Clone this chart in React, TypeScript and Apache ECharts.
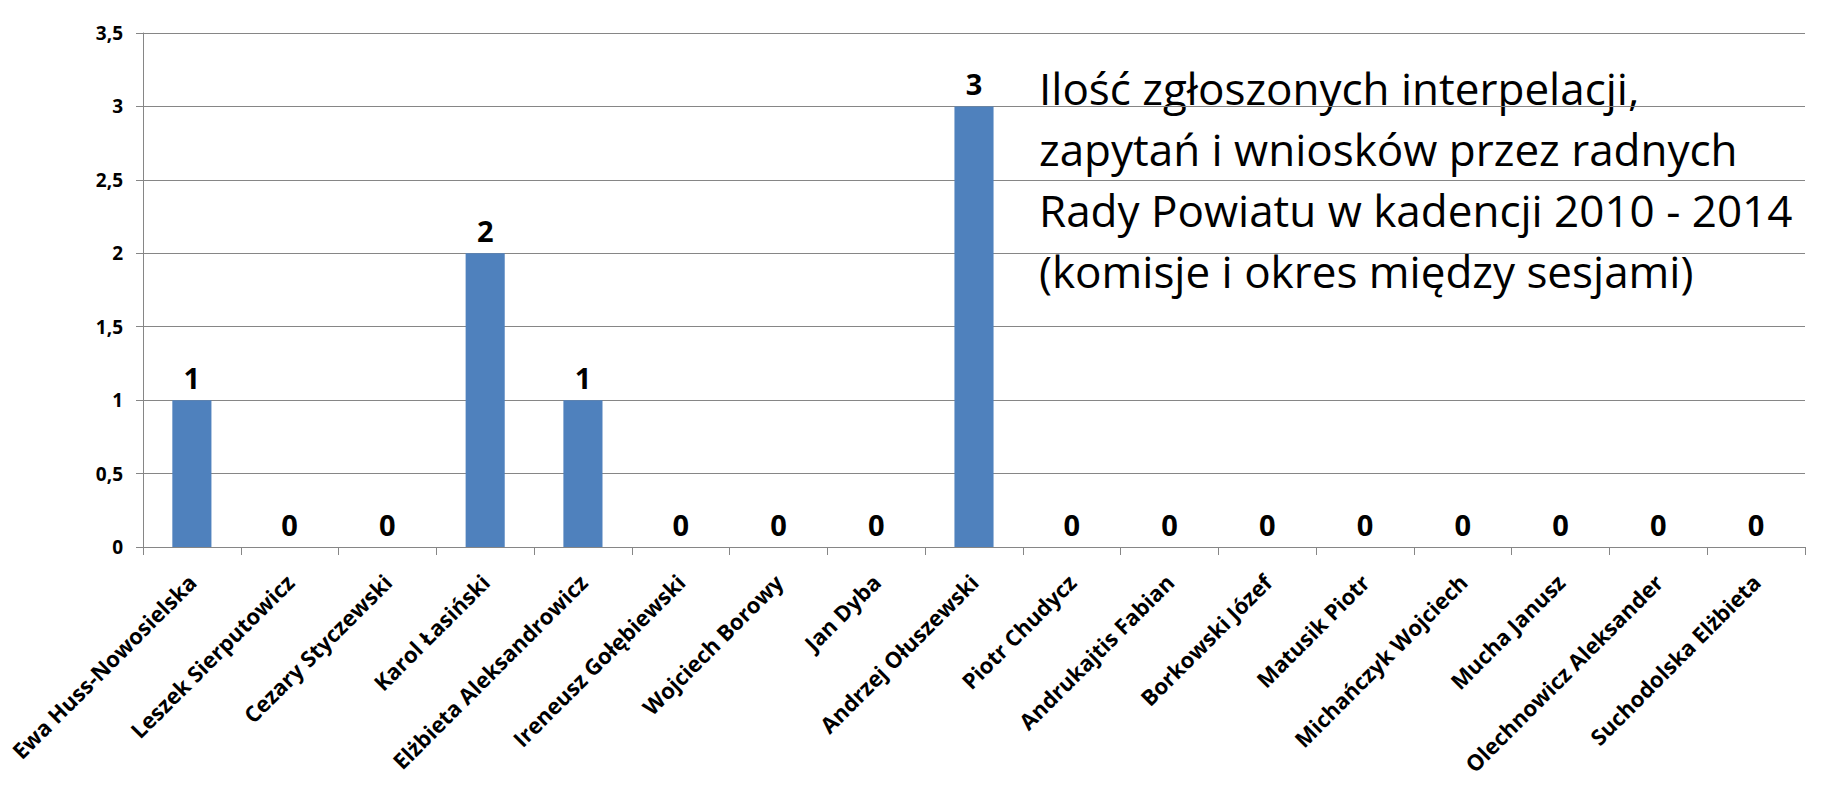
import { useEffect, useRef } from 'react';
import * as echarts from 'echarts';

// radni i liczba zgłoszonych interpelacji
const categories = [
  'Ewa Huss-Nowosielska',
  'Leszek Sierputowicz',
  'Cezary Styczewski',
  'Karol Łasiński',
  'Elżbieta Aleksandrowicz',
  'Ireneusz Gołębiewski',
  'Wojciech Borowy',
  'Jan Dyba',
  'Andrzej Ołuszewski',
  'Piotr Chudycz',
  'Andrukajtis Fabian',
  'Borkowski Józef',
  'Matusik Piotr',
  'Michańczyk Wojciech',
  'Mucha Janusz',
  'Olechnowicz Aleksander',
  'Suchodolska Elżbieta'
];
const values = [1, 0, 0, 2, 1, 0, 0, 0, 3, 0, 0, 0, 0, 0, 0, 0, 0];

const yMin = 0;
const yMax = 3.5;
const yStep = 0.5;

const titleLines = [
  'Ilość zgłoszonych interpelacji,',
  'zapytań i wniosków przez radnych',
  'Rady Powiatu w kadencji 2010 - 2014',
  '(komisje i okres między sesjami)'
];

const FONT = '"Open Sans", "Noto Sans", sans-serif';
const GRID_COLOR = '#868686';

export default function App() {
  const chartRef = useRef<HTMLDivElement>(null);

  useEffect(() => {
    if (!chartRef.current) return;
    const chart = echarts.init(chartRef.current, null, { renderer: 'svg' });

    chart.setOption({
      animation: false,
      backgroundColor: '#ffffff',
      grid: {
        left: 143,
        right: 25,
        top: 33,
        bottom: 243
      },
      xAxis: {
        type: 'category',
        data: categories,
        axisLine: { lineStyle: { color: GRID_COLOR, width: 1 } },
        axisTick: { show: true, length: 8, lineStyle: { color: GRID_COLOR } },
        axisLabel: {
          interval: 0,
          rotate: 45,
          margin: 31,
          color: '#000',
          fontFamily: FONT,
          fontWeight: 'bold',
          fontSize: 22
        }
      },
      yAxis: {
        type: 'value',
        min: yMin,
        max: yMax,
        interval: yStep,
        axisLine: { show: true, lineStyle: { color: GRID_COLOR, width: 1 } },
        axisTick: { show: true, length: 7, lineStyle: { color: GRID_COLOR } },
        splitLine: { show: true, lineStyle: { color: GRID_COLOR, width: 1 } },
        axisLabel: {
          margin: 20,
          color: '#000',
          fontFamily: FONT,
          fontWeight: 'bold',
          fontSize: 19,
          formatter: (v: number) => String(v).replace('.', ',')
        }
      },
      series: [{
        type: 'bar',
        data: values,
        barWidth: '40%',
        itemStyle: { color: '#4F81BD' },
        label: {
          show: true,
          position: 'top',
          distance: 8,
          color: '#000',
          fontFamily: FONT,
          fontWeight: 'bold',
          fontSize: 29
        }
      }],
      graphic: [{
        type: 'text',
        x: 1039,
        y: 57,
        style: {
          text: titleLines.join('\n'),
          fill: '#000',
          font: `44px ${FONT}`,
          lineHeight: 61,
          textAlign: 'left',
          textVerticalAlign: 'top'
        }
      }]
    });

    return () => {
      chart.dispose();
    };
  }, []);

  return (
    <div
      ref={chartRef}
      style={{ position: 'absolute', left: 0, top: 0, width: 1830, height: 790 }}
    />
  );
}
